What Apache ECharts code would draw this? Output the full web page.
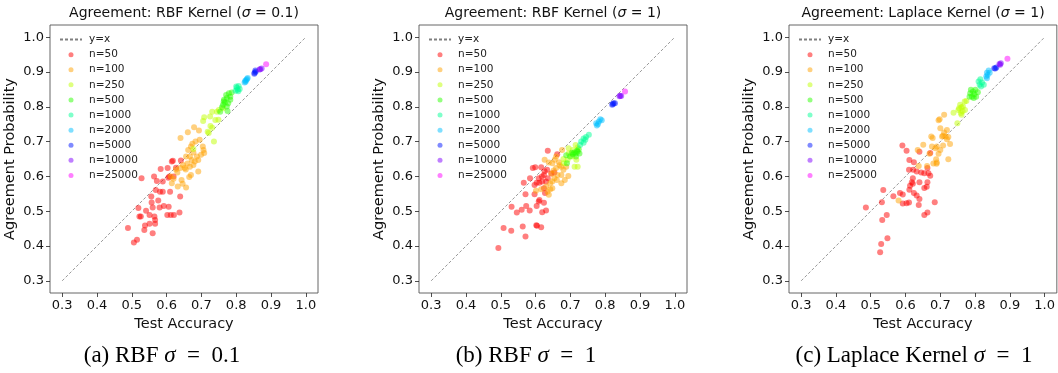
<!DOCTYPE html>
<html>
<head>
<meta charset="utf-8">
<script src="https://cdn.jsdelivr.net/npm/echarts@6/dist/echarts.min.js"></script>
<style>
  html, body { margin: 0; padding: 0; background: #fff; }
  #chart { width: 1058px; height: 373px; }
</style>
</head>
<body>
<div id="chart"></div>
<script>
// Tick values shared by both axes of every panel
const TICKS = [0.3, 0.4, 0.5, 0.6, 0.7, 0.8, 0.9, 1.0];
const DIAG = [[0.3, 0.3], [1.0, 1.0]];
const GROUPS = ['n=50', 'n=100', 'n=250', 'n=500', 'n=1000', 'n=2000', 'n=5000', 'n=10000', 'n=25000'];

const PANEL_TITLES = ['Agreement: RBF Kernel ({i|σ} = 0.1)', 'Agreement: RBF Kernel ({i|σ} = 1)', 'Agreement: Laplace Kernel ({i|σ} = 1)'];
const CAPTIONS = ['(a) RBF {i|σ} = 0.1', '(b) RBF {i|σ} = 1', '(c) Laplace Kernel {i|σ} = 1'];

// (test accuracy, agreement probability) — RBF kernel, sigma = 0.1
const RBF01_N50 = [[0.528,0.595],[0.564,0.600],[0.572,0.587],[0.569,0.561],[0.556,0.542],[0.589,0.585],[0.583,0.621],[0.603,0.624],[0.608,0.600],[0.615,0.643],[0.618,0.645],[0.627,0.625],[0.641,0.646],[0.639,0.542],[0.620,0.600],[0.581,0.556],[0.589,0.556],[0.610,0.556],[0.576,0.531],[0.519,0.509],[0.522,0.485],[0.526,0.485],[0.541,0.501],[0.557,0.525],[0.560,0.511],[0.580,0.511],[0.592,0.515],[0.606,0.513],[0.602,0.489],[0.612,0.489],[0.621,0.489],[0.637,0.496],[0.565,0.485],[0.567,0.475],[0.551,0.489],[0.538,0.459],[0.536,0.446],[0.551,0.464],[0.567,0.464],[0.560,0.437],[0.489,0.452],[0.515,0.418],[0.506,0.410],[0.605,0.596]];
const RBF01_N100 = [[0.640,0.710],[0.661,0.727],[0.679,0.741],[0.693,0.732],[0.670,0.686],[0.674,0.694],[0.683,0.700],[0.704,0.686],[0.706,0.676],[0.708,0.667],[0.695,0.705],[0.662,0.676],[0.677,0.669],[0.687,0.657],[0.699,0.662],[0.667,0.657],[0.656,0.657],[0.672,0.647],[0.681,0.643],[0.691,0.647],[0.660,0.637],[0.667,0.628],[0.677,0.633],[0.647,0.633],[0.639,0.624],[0.627,0.620],[0.631,0.611],[0.652,0.624],[0.655,0.620],[0.670,0.604],[0.665,0.598],[0.691,0.614],[0.620,0.593],[0.612,0.600],[0.615,0.580],[0.643,0.590],[0.646,0.579],[0.632,0.571],[0.656,0.568]];
const RBF01_N250 = [[0.708,0.770],[0.725,0.772],[0.745,0.786],[0.731,0.786],[0.705,0.759],[0.740,0.762],[0.749,0.763],[0.726,0.745],[0.731,0.740],[0.718,0.728],[0.721,0.725],[0.736,0.700],[0.677,0.679],[0.750,0.791],[0.762,0.796]];
const RBF01_N500 = [[0.759,0.799],[0.762,0.806],[0.773,0.801],[0.777,0.810],[0.765,0.820],[0.773,0.825],[0.783,0.829],[0.771,0.834],[0.779,0.839],[0.787,0.841],[0.754,0.786],[0.775,0.788],[0.764,0.815],[0.783,0.820],[0.768,0.812]];
const RBF01_N1000 = [[0.800,0.858],[0.804,0.849],[0.807,0.860],[0.798,0.846],[0.810,0.851],[0.802,0.855],[0.806,0.845]];
const RBF01_N2000 = [[0.826,0.875],[0.831,0.880],[0.824,0.870],[0.829,0.877],[0.833,0.883],[0.827,0.872]];
const RBF01_N5000 = [[0.853,0.898],[0.855,0.904],[0.852,0.895],[0.856,0.901]];
const RBF01_N10000 = [[0.869,0.908],[0.873,0.910],[0.867,0.907]];
const RBF01_N25000 = [[0.886,0.922]];

// RBF kernel, sigma = 1
const RBF1_N50 = [[0.635,0.674],[0.592,0.624],[0.599,0.626],[0.616,0.626],[0.626,0.615],[0.633,0.619],[0.624,0.604],[0.618,0.600],[0.609,0.595],[0.603,0.582],[0.611,0.582],[0.619,0.585],[0.630,0.585],[0.584,0.595],[0.566,0.582],[0.571,0.549],[0.597,0.575],[0.597,0.549],[0.624,0.566],[0.627,0.552],[0.635,0.595],[0.645,0.608],[0.654,0.611],[0.662,0.664],[0.624,0.524],[0.609,0.528],[0.611,0.532],[0.583,0.502],[0.603,0.515],[0.619,0.497],[0.630,0.502],[0.560,0.504],[0.546,0.496],[0.573,0.515],[0.531,0.513],[0.508,0.452],[0.530,0.444],[0.563,0.456],[0.602,0.460],[0.604,0.458],[0.616,0.454],[0.571,0.427],[0.493,0.394]];
const RBF1_N100 = [[0.626,0.648],[0.638,0.640],[0.648,0.638],[0.659,0.657],[0.676,0.676],[0.667,0.641],[0.669,0.632],[0.674,0.628],[0.680,0.619],[0.659,0.624],[0.652,0.617],[0.646,0.608],[0.663,0.604],[0.674,0.604],[0.694,0.601],[0.654,0.595],[0.648,0.585],[0.661,0.590],[0.674,0.580],[0.642,0.580],[0.630,0.571],[0.616,0.563],[0.601,0.559],[0.634,0.556],[0.642,0.563],[0.648,0.566],[0.638,0.547],[0.684,0.590],[0.688,0.628],[0.655,0.648]];
const RBF1_N250 = [[0.695,0.681],[0.707,0.676],[0.715,0.690],[0.721,0.683],[0.705,0.657],[0.692,0.648],[0.681,0.638],[0.717,0.648],[0.712,0.628],[0.721,0.628],[0.680,0.650],[0.695,0.666]];
const RBF1_N500 = [[0.688,0.661],[0.699,0.657],[0.707,0.664],[0.715,0.666],[0.721,0.671],[0.726,0.666],[0.716,0.657],[0.711,0.669],[0.690,0.638],[0.724,0.678],[0.704,0.668],[0.719,0.674]];
const RBF1_N1000 = [[0.731,0.700],[0.738,0.697],[0.743,0.705],[0.745,0.713],[0.753,0.720],[0.728,0.690],[0.738,0.709]];
const RBF1_N2000 = [[0.774,0.753],[0.776,0.746],[0.782,0.758],[0.786,0.764],[0.790,0.761],[0.779,0.750]];
const RBF1_N5000 = [[0.820,0.806],[0.824,0.810],[0.828,0.810],[0.822,0.808]];
const RBF1_N10000 = [[0.841,0.830],[0.846,0.831],[0.843,0.832]];
const RBF1_N25000 = [[0.857,0.844]];

// Laplace kernel, sigma = 1
const LAP_N50 = [[0.591,0.689],[0.603,0.674],[0.611,0.647],[0.624,0.641],[0.640,0.671],[0.610,0.619],[0.622,0.619],[0.632,0.614],[0.645,0.611],[0.654,0.609],[0.663,0.624],[0.666,0.609],[0.671,0.667],[0.671,0.602],[0.621,0.595],[0.613,0.573],[0.621,0.579],[0.618,0.583],[0.611,0.562],[0.624,0.552],[0.584,0.552],[0.592,0.548],[0.565,0.543],[0.536,0.561],[0.640,0.583],[0.663,0.583],[0.661,0.570],[0.654,0.567],[0.632,0.545],[0.640,0.535],[0.592,0.522],[0.603,0.523],[0.610,0.525],[0.638,0.518],[0.532,0.526],[0.486,0.511],[0.684,0.526],[0.654,0.489],[0.663,0.496],[0.546,0.489],[0.533,0.475],[0.548,0.422],[0.530,0.406],[0.527,0.382]];
const LAP_N100 = [[0.635,0.676],[0.638,0.630],[0.662,0.630],[0.580,0.531],[0.669,0.665],[0.674,0.715],[0.678,0.710],[0.676,0.686],[0.686,0.681],[0.690,0.686],[0.695,0.761],[0.698,0.764],[0.711,0.777],[0.700,0.738],[0.705,0.715],[0.708,0.717],[0.711,0.726],[0.715,0.715],[0.719,0.707],[0.723,0.713],[0.728,0.693],[0.708,0.689],[0.700,0.676],[0.695,0.665],[0.688,0.649],[0.689,0.636],[0.690,0.640],[0.719,0.733],[0.680,0.637],[0.651,0.691],[0.723,0.649]];
const LAP_N250 = [[0.749,0.753],[0.752,0.791],[0.757,0.806],[0.761,0.799],[0.754,0.796],[0.765,0.801],[0.770,0.815],[0.775,0.817],[0.759,0.782],[0.761,0.777],[0.771,0.791],[0.764,0.787],[0.738,0.783]];
const LAP_N500 = [[0.788,0.849],[0.794,0.844],[0.791,0.829],[0.798,0.836],[0.803,0.829],[0.796,0.825],[0.784,0.829],[0.801,0.849],[0.808,0.842],[0.786,0.839]];
const LAP_N1000 = [[0.815,0.879],[0.820,0.870],[0.813,0.863],[0.825,0.863],[0.817,0.858],[0.810,0.873]];
const LAP_N2000 = [[0.834,0.898],[0.839,0.904],[0.842,0.898],[0.832,0.887],[0.836,0.891],[0.834,0.882]];
const LAP_N5000 = [[0.855,0.911],[0.861,0.913],[0.858,0.910]];
const LAP_N10000 = [[0.870,0.923],[0.874,0.925],[0.872,0.921]];
const LAP_N25000 = [[0.893,0.938]];

const PANELS = [
  [RBF01_N50, RBF01_N100, RBF01_N250, RBF01_N500, RBF01_N1000, RBF01_N2000, RBF01_N5000, RBF01_N10000, RBF01_N25000],
  [RBF1_N50, RBF1_N100, RBF1_N250, RBF1_N500, RBF1_N1000, RBF1_N2000, RBF1_N5000, RBF1_N10000, RBF1_N25000],
  [LAP_N50, LAP_N100, LAP_N250, LAP_N500, LAP_N1000, LAP_N2000, LAP_N5000, LAP_N10000, LAP_N25000]
];

// ---- styling / layout ----
const COLORS = ['#ff0000', '#ffa200', '#bfff00', '#2aff00', '#00ff95', '#00bfff', '#0015ff', '#8000ff', '#ff00ff'];
const FONT = 'DejaVu Sans';
const SERIF = 'Liberation Serif';
const GRID_LEFT = [50, 419, 789];
const GRID_TOP = 25, GRID_W = 268, GRID_H = 268;
const CAPTION_X = [162, 526, 914];

const grids = [], xAxes = [], yAxes = [], series = [], legends = [], graphics = [];

function axisCommon(gi, name, gap) {
  return {
    type: 'value', gridIndex: gi, min: 0.265, max: 1.035,
    name: name, nameLocation: 'middle', nameGap: gap,
    nameTextStyle: { fontFamily: FONT, fontSize: 14.5, color: '#111' },
    axisLine: { show: false },
    axisTick: { show: true, inside: false, length: 4, customValues: TICKS, lineStyle: { color: '#222', width: 0.8 } },
    axisLabel: { customValues: TICKS, formatter: v => v.toFixed(1), fontFamily: FONT, fontSize: 13, color: '#111', margin: 6 },
    splitLine: { show: false }
  };
}

for (let p = 0; p < 3; p++) {
  grids.push({ left: GRID_LEFT[p], top: GRID_TOP, width: GRID_W, height: GRID_H, show: true, borderColor: '#555', borderWidth: 0.9, backgroundColor: '#fff' });
  xAxes.push(axisCommon(p, 'Test Accuracy', 22));
  yAxes.push(axisCommon(p, 'Agreement Probability', 32));

  series.push({
    type: 'line', name: 'y=x', xAxisIndex: p, yAxisIndex: p, data: DIAG,
    symbol: 'none', silent: true, z: 1,
    itemStyle: { color: '#7f7f7f' },
    lineStyle: { color: '#7f7f7f', width: 0.8, type: [3, 2] }
  });
  PANELS[p].forEach((pts, g) => {
    series.push({
      type: 'scatter', name: GROUPS[g], xAxisIndex: p, yAxisIndex: p, data: pts,
      symbol: 'circle', symbolSize: 6, z: 2,
      itemStyle: { color: COLORS[g], opacity: 0.5 }
    });
  });

  legends.push({
    orient: 'vertical', left: GRID_LEFT[p] + 4, top: GRID_TOP + 3,
    data: [{ name: 'y=x', itemStyle: { opacity: 0 } }].concat(GROUPS.map(n => ({ name: n, icon: 'circle' }))),
    itemWidth: 22, itemHeight: 5, itemGap: 2,
    selectedMode: false,
    textStyle: { fontFamily: FONT, fontSize: 10.5, color: '#222', lineHeight: 13.1, padding: [0, 0, 0, 2] }
  });

  graphics.push({
    type: 'text', x: GRID_LEFT[p] + GRID_W / 2, y: 13,
    style: {
      text: PANEL_TITLES[p], align: 'center', verticalAlign: 'middle',
      fontFamily: FONT, fontSize: 14, fill: '#111',
      rich: { i: { fontStyle: 'italic', fontFamily: FONT, fontSize: 14, fill: '#111' } }
    }
  });
  graphics.push({
    type: 'text', x: CAPTION_X[p], y: 356,
    style: {
      text: CAPTIONS[p].replace(' = ', '\u2002=\u2002'), align: 'center', verticalAlign: 'middle',
      fontFamily: SERIF, fontSize: 23, fill: '#000',
      rich: { i: { fontStyle: 'italic', fontFamily: SERIF, fontSize: 23, fill: '#000' } }
    }
  });
}

const chart = echarts.init(document.getElementById('chart'), null, { renderer: 'canvas' });
chart.setOption({
  animation: false,
  backgroundColor: '#fff',
  grid: grids, xAxis: xAxes, yAxis: yAxes,
  legend: legends, series: series, graphic: graphics
});
</script>
</body>
</html>
